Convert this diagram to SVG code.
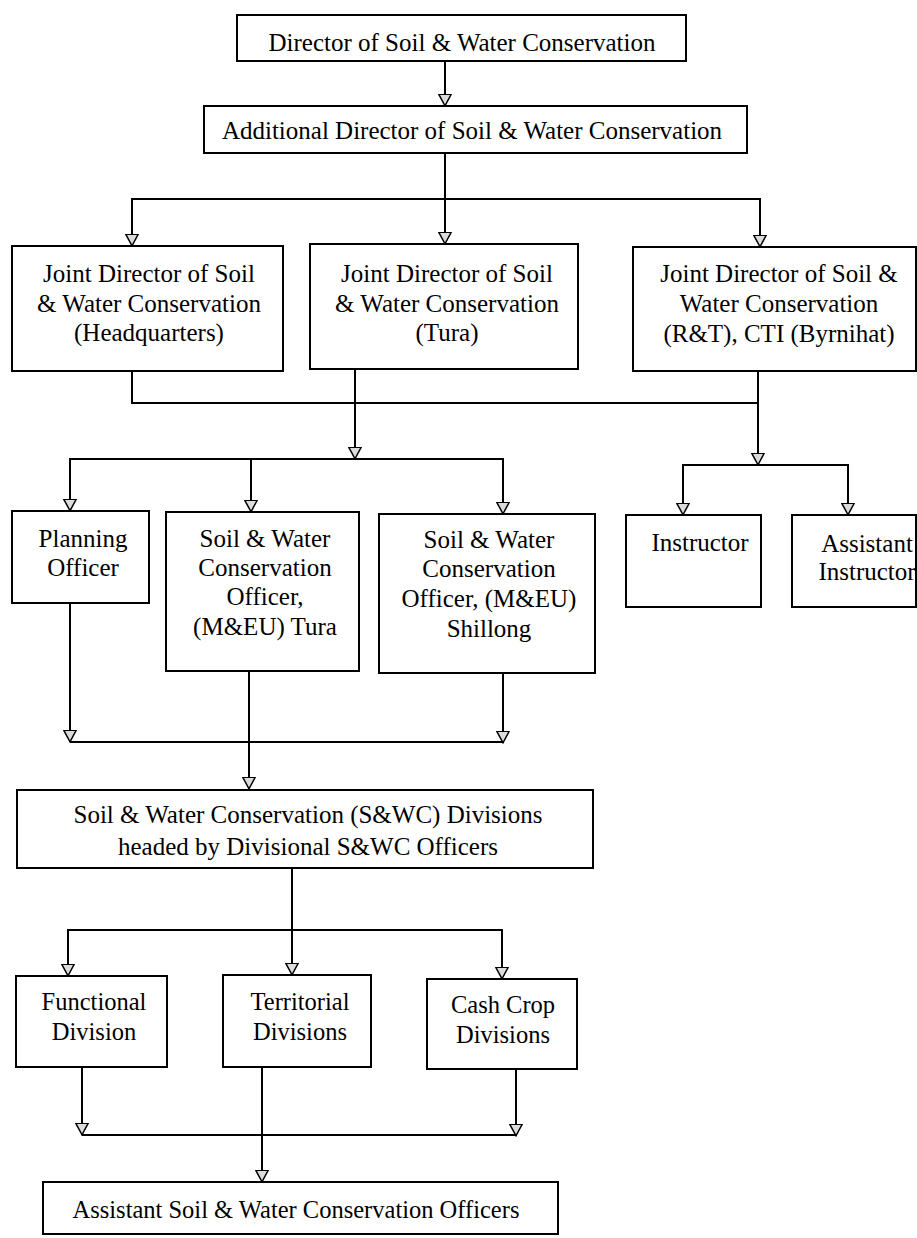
<svg xmlns="http://www.w3.org/2000/svg" width="917" height="1238" viewBox="0 0 917 1238">
  <style>
    .box { fill: #ffffff; stroke: #000000; stroke-width: 2; }
    .lbl { font-family: 'Liberation Serif', 'DejaVu Serif', serif; font-size: 25px; fill: #000000; text-anchor: middle; }
    .sm { font-size: 24.5px; }
    .wire { fill: none; stroke: #000000; stroke-width: 2; }
    .arrow { marker-end: url(#tri); }
  </style>
  <defs>
    <marker id="tri" markerUnits="userSpaceOnUse" markerWidth="13" markerHeight="14" viewBox="0 0 13 14" refX="12.5" refY="7" orient="auto">
      <path d="M0.75,0.75 L12.25,7 L0.75,13.25 Z" fill="#dcdcdc" stroke="#000000" stroke-width="1.5" stroke-linejoin="miter"/>
    </marker>
  </defs>
  <rect width="917" height="1238" fill="#ffffff"/>

  <!-- connectors -->
  <g id="connectors">
    <path class="wire arrow" d="M445,61 V106"/>
    <path class="wire arrow" d="M445,153 V244"/>
    <path class="wire arrow" d="M445,199 H132 V246"/>
    <path class="wire arrow" d="M445,199 H760 V247"/>
    <path class="wire" d="M132,371 V403 H758"/>
    <path class="wire arrow" d="M355,369 V459"/>
    <path class="wire arrow" d="M758,371 V465"/>
    <path class="wire arrow" d="M758,465 H683 V515"/>
    <path class="wire arrow" d="M758,465 H848 V515"/>
    <path class="wire arrow" d="M355,459 H70 V511"/>
    <path class="wire arrow" d="M355,459 H503 V514"/>
    <path class="wire arrow" d="M251,459 V512"/>
    <path class="wire arrow" d="M70,603 V742"/>
    <path class="wire arrow" d="M503,673 V743"/>
    <path class="wire" d="M70,742 H503"/>
    <path class="wire arrow" d="M249,671 V789"/>
    <path class="wire" d="M292,868 V930"/>
    <path class="wire arrow" d="M292,930 H68 V976"/>
    <path class="wire arrow" d="M292,930 H502 V979"/>
    <path class="wire arrow" d="M292,930 V975"/>
    <path class="wire arrow" d="M82,1067 V1135"/>
    <path class="wire arrow" d="M516,1069 V1136"/>
    <path class="wire" d="M82,1135 H516"/>
    <path class="wire arrow" d="M262,1067 V1182"/>
  </g>

  <g id="director">
    <rect class="box" x="237" y="15" width="449" height="46"/>
    <text class="lbl" x="462" y="51">Director of Soil &amp; Water Conservation</text>
  </g>

  <g id="additional-director">
    <rect class="box" x="204" y="106" width="543" height="47"/>
    <text class="lbl" x="472" y="139">Additional Director of Soil &amp; Water Conservation</text>
  </g>

  <g id="jd-headquarters">
    <rect class="box" x="12" y="246" width="271" height="125"/>
    <text class="lbl" x="149" y="282">Joint Director of Soil</text>
    <text class="lbl" x="149" y="312">&amp; Water Conservation</text>
    <text class="lbl" x="149" y="341">(Headquarters)</text>
  </g>

  <g id="jd-tura">
    <rect class="box" x="310" y="244" width="268" height="125"/>
    <text class="lbl" x="447" y="282">Joint Director of Soil</text>
    <text class="lbl" x="447" y="312">&amp; Water Conservation</text>
    <text class="lbl" x="447" y="341">(Tura)</text>
  </g>

  <g id="jd-rt-cti">
    <rect class="box" x="633" y="247" width="283" height="124"/>
    <text class="lbl" x="779" y="282">Joint Director of Soil &amp;</text>
    <text class="lbl" x="779" y="312">Water Conservation</text>
    <text class="lbl" x="779" y="342">(R&amp;T), CTI (Byrnihat)</text>
  </g>

  <g id="planning-officer">
    <rect class="box" x="12" y="511" width="137" height="92"/>
    <text class="lbl" x="83" y="547">Planning</text>
    <text class="lbl" x="83" y="576">Officer</text>
  </g>

  <g id="swco-tura">
    <rect class="box" x="166" y="512" width="193" height="159"/>
    <text class="lbl" x="265" y="547">Soil &amp; Water</text>
    <text class="lbl" x="265" y="576">Conservation</text>
    <text class="lbl" x="265" y="605">Officer,</text>
    <text class="lbl" x="265" y="635">(M&amp;EU) Tura</text>
  </g>

  <g id="swco-shillong">
    <rect class="box" x="379" y="514" width="216" height="159"/>
    <text class="lbl" x="489" y="548">Soil &amp; Water</text>
    <text class="lbl" x="489" y="577">Conservation</text>
    <text class="lbl" x="489" y="607">Officer, (M&amp;EU)</text>
    <text class="lbl" x="489" y="637">Shillong</text>
  </g>

  <g id="instructor">
    <rect class="box" x="626" y="515" width="135" height="92"/>
    <text class="lbl" x="700" y="551">Instructor</text>
  </g>

  <g id="assistant-instructor">
    <rect class="box" x="792" y="515" width="124" height="92"/>
    <text class="lbl" x="867" y="552">Assistant</text>
    <text class="lbl" x="867" y="580">Instructor</text>
  </g>

  <g id="swc-divisions">
    <rect class="box" x="17" y="790" width="576" height="78"/>
    <text class="lbl" x="308" y="823">Soil &amp; Water Conservation (S&amp;WC) Divisions</text>
    <text class="lbl" x="308" y="855">headed by Divisional S&amp;WC Officers</text>
  </g>

  <g id="functional-division">
    <rect class="box" x="16" y="976" width="151" height="91"/>
    <text class="lbl sm" x="94" y="1010">Functional</text>
    <text class="lbl sm" x="94" y="1040">Division</text>
  </g>

  <g id="territorial-divisions">
    <rect class="box" x="223" y="975" width="148" height="92"/>
    <text class="lbl sm" x="300" y="1010">Territorial</text>
    <text class="lbl sm" x="300" y="1040">Divisions</text>
  </g>

  <g id="cash-crop-divisions">
    <rect class="box" x="427" y="979" width="150" height="90"/>
    <text class="lbl sm" x="503" y="1013">Cash Crop</text>
    <text class="lbl sm" x="503" y="1043">Divisions</text>
  </g>

  <g id="assistant-officers">
    <rect class="box" x="43" y="1182" width="515" height="52"/>
    <text class="lbl sm" x="296" y="1218">Assistant Soil &amp; Water Conservation Officers</text>
  </g>
</svg>
